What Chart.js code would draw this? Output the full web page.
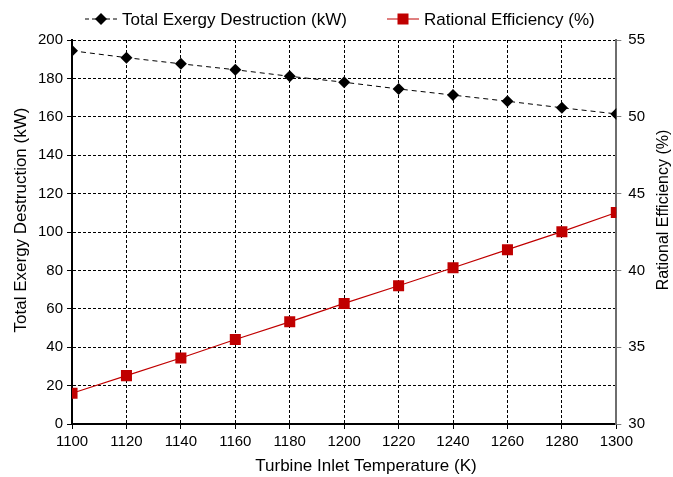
<!DOCTYPE html>
<html>
<head>
<meta charset="utf-8">
<script src="https://cdn.jsdelivr.net/npm/chart.js@4"></script>
<style>
  html, body { margin: 0; padding: 0; background: #fff; }
  #wrap { width: 673px; height: 477px; }
</style>
</head>
<body>
<div id="wrap"><canvas id="chart" width="673" height="477"></canvas></div>
<script>
// data
const temperatures = [1100, 1120, 1140, 1160, 1180, 1200, 1220, 1240, 1260, 1280, 1300];
const exergyDestruction = [194.4, 190.8, 187.6, 184.5, 181.1, 178.0, 174.5, 171.3, 168.1, 164.7, 161.5];
const rationalEfficiency = [32.0, 33.15, 34.3, 35.5, 36.65, 37.85, 39.0, 40.17, 41.35, 42.52, 43.77];
const leftTicks = [0, 20, 40, 60, 80, 100, 120, 140, 160, 180, 200];
const rightTicks = [30, 35, 40, 45, 50, 55];
const xTitle = 'Turbine Inlet Temperature (K)';
const leftTitle = 'Total Exergy Destruction (kW)';
const rightTitle = 'Rational Efficiency (%)';

const FONT = "'Liberation Sans', Arial, sans-serif";
const RED = '#c00000';

// legend + axis titles drawn by hand; the original places them off-centre
const labelsPlugin = {
    id: 'handLabels',
    afterDraw(chart) {
        const ctx = chart.ctx;
        const y = 19;
        const items = [
            { x: 85, dash: [4, 3], color: '#000', marker: 'diamond', text: 'Total Exergy Destruction (kW)' },
            { x: 387, dash: [], color: RED, marker: 'square', text: 'Rational Efficiency (%)' }
        ];
        ctx.save();
        ctx.font = '17px ' + FONT;
        ctx.textBaseline = 'middle';
        items.forEach(it => {
            ctx.strokeStyle = it.color;
            ctx.lineWidth = 1;
            ctx.setLineDash(it.dash);
            ctx.beginPath();
            ctx.moveTo(it.x, y);
            ctx.lineTo(it.x + 32, y);
            ctx.stroke();
            ctx.setLineDash([]);
            ctx.fillStyle = it.color;
            const cx = it.x + 16;
            if (it.marker === 'diamond') {
                ctx.beginPath();
                ctx.moveTo(cx - 6, y);
                ctx.lineTo(cx, y - 6);
                ctx.lineTo(cx + 6, y);
                ctx.lineTo(cx, y + 6);
                ctx.closePath();
                ctx.fill();
            } else {
                ctx.fillRect(cx - 5.5, y - 5.5, 11, 11);
            }
            ctx.fillStyle = '#000';
            ctx.fillText(it.text, it.x + 37, y + 1);
        });

        ctx.textAlign = 'center';
        ctx.fillText(xTitle, 366, 466);

        ctx.save();
        ctx.translate(21, 220);
        ctx.rotate(-Math.PI / 2);
        ctx.fillText(leftTitle, 0, 0);
        ctx.restore();

        ctx.font = '16px ' + FONT;
        ctx.translate(664, 210);
        ctx.rotate(-Math.PI / 2);
        ctx.fillText(rightTitle, 0, 0);
        ctx.restore();
    }
};

new Chart(document.getElementById('chart'), {
    type: 'line',
    data: {
        datasets: [{
            label: 'Total Exergy Destruction (kW)',
            data: temperatures.map((t, i) => ({ x: t, y: exergyDestruction[i] })),
            yAxisID: 'y',
            borderColor: '#000',
            backgroundColor: '#000',
            borderWidth: 1,
            borderDash: [5, 4],
            pointStyle: 'rectRot',
            pointRadius: 6,
            pointHoverRadius: 6,
            pointBorderWidth: 0,
            tension: 0
        }, {
            label: 'Rational Efficiency (%)',
            data: temperatures.map((t, i) => ({ x: t, y: rationalEfficiency[i] })),
            yAxisID: 'y1',
            borderColor: RED,
            backgroundColor: RED,
            borderWidth: 1.2,
            pointStyle: 'rect',
            pointRadius: 7.8,
            pointHoverRadius: 7.8,
            pointBorderWidth: 0,
            tension: 0
        }]
    },
    options: {
        responsive: false,
        animation: false,
        layout: { padding: { top: 40, right: 21, bottom: 22, left: 34 } },
        plugins: {
            legend: { display: false },
            tooltip: { enabled: false }
        },
        scales: {
            x: {
                type: 'linear',
                min: temperatures[0],
                max: temperatures[temperatures.length - 1],
                afterBuildTicks: axis => { axis.ticks = temperatures.map(v => ({ value: v })); },
                ticks: { color: '#000', font: { family: FONT, size: 15 }, padding: 4, maxRotation: 0, callback: v => String(v) },
                grid: { color: '#000', lineWidth: 1, tickLength: 5, tickColor: '#000' },
                border: { color: '#000', width: 2, dash: [3, 2] },
                title: { display: false }
            },
            y: {
                position: 'left',
                min: 0,
                max: 200,
                afterBuildTicks: axis => { axis.ticks = leftTicks.map(v => ({ value: v })); },
                ticks: { color: '#000', font: { family: FONT, size: 15 }, padding: 4 },
                grid: { color: '#000', lineWidth: 1, tickLength: 5, tickColor: '#000' },
                border: { color: '#000', width: 2, dash: [3, 2] },
                title: { display: false }
            },
            y1: {
                position: 'right',
                min: 30,
                max: 55,
                afterBuildTicks: axis => { axis.ticks = rightTicks.map(v => ({ value: v })); },
                ticks: { color: '#000', font: { family: FONT, size: 15 }, padding: 7 },
                grid: { drawOnChartArea: false, tickLength: 5, tickColor: '#808080' },
                border: { color: '#6e6e6e', width: 2 },
                title: { display: false }
            }
        }
    },
    plugins: [labelsPlugin]
});
</script>
</body>
</html>
